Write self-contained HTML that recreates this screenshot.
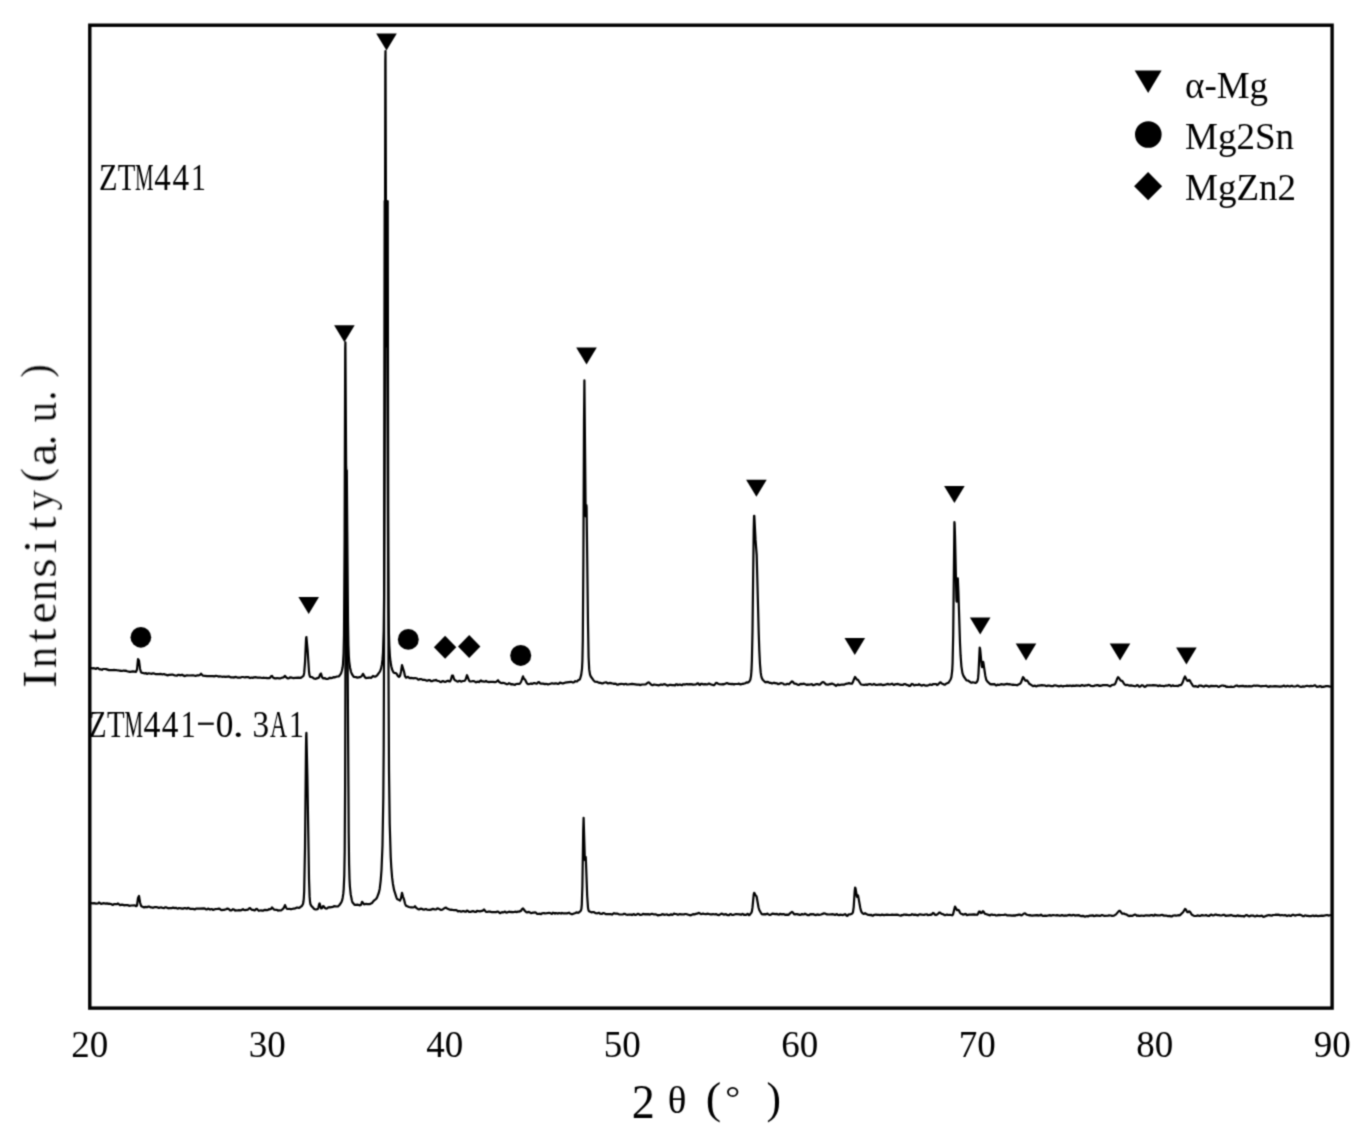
<!DOCTYPE html>
<html><head><meta charset="utf-8"><style>
html,body{margin:0;padding:0;background:#fff;}
svg{display:block;}
text{font-family:"Liberation Serif",serif;fill:#000;}
</style></head><body>
<svg width="1362" height="1131" viewBox="0 0 1362 1131">
<defs><filter id="bl" x="-1%" y="-1%" width="102%" height="102%"><feConvolveMatrix order="3" kernelMatrix="0.0361 0.1178 0.0361 0.1178 0.3846 0.1178 0.0361 0.1178 0.0361" divisor="1" edgeMode="duplicate" preserveAlpha="false"/></filter></defs>
<rect x="0" y="0" width="1362" height="1131" fill="#fff"/>
<g filter="url(#bl)">
<g><text transform="translate(98.94 189.90) scale(0.808 1)" font-size="37.5">Z</text><text transform="translate(117.68 189.90) scale(0.769 1)" font-size="37.5">T</text><text transform="translate(135.00 189.90) scale(0.555 1)" font-size="37.5">M</text><text transform="translate(154.34 189.90) scale(0.879 1)" font-size="37.5">4</text><text transform="translate(172.44 189.90) scale(0.885 1)" font-size="37.5">4</text><text transform="translate(191.07 189.90) scale(0.795 1)" font-size="37.5">1</text><text transform="translate(89.02 736.70) scale(0.766 1)" font-size="37.5">Z</text><text transform="translate(106.88 736.70) scale(0.769 1)" font-size="37.5">T</text><text transform="translate(124.60 736.70) scale(0.555 1)" font-size="37.5">M</text><text transform="translate(143.52 736.70) scale(0.902 1)" font-size="37.5">4</text><text transform="translate(161.64 736.70) scale(0.885 1)" font-size="37.5">4</text><text transform="translate(180.68 736.70) scale(0.795 1)" font-size="37.5">1</text><text transform="translate(215.66 736.70) scale(0.943 1)" font-size="37.5">0</text><text transform="translate(232.69 736.70) scale(1.175 1)" font-size="37.5">.</text><text transform="translate(252.61 736.70) scale(0.885 1)" font-size="37.5">3</text><text transform="translate(270.06 736.70) scale(0.628 1)" font-size="37.5">A</text><text transform="translate(289.07 736.70) scale(0.795 1)" font-size="37.5">1</text><rect x="198" y="722.6" width="15.8" height="2.3" fill="#111"/></g>
<g><text transform="translate(631.87 1118.20) scale(0.963 1)" font-size="47.89">2</text><text transform="translate(667.77 1112.52) scale(1.023 1)" font-size="38.08">θ</text><text transform="translate(705.86 1112.90) scale(1.061 1)" font-size="43.66">(</text><text transform="translate(725.21 1108.94) scale(1.076 1)" font-size="34.65">°</text><text transform="translate(766.61 1112.90) scale(0.998 1)" font-size="43.66">)</text></g>
<g transform="translate(55.9 687.5) rotate(-90)" stroke="#fff" stroke-width="0.2"><text transform="translate(-0.43 0.00) scale(1.100 1)" font-size="47.5">I</text><text transform="translate(19.43 0.00) scale(0.918 1)" font-size="46">n</text><text transform="translate(45.07 0.00) scale(1.100 1)" font-size="46">t</text><text transform="translate(64.03 0.00) scale(1.040 1)" font-size="46">e</text><text transform="translate(86.13 0.00) scale(0.918 1)" font-size="46">n</text><text transform="translate(109.74 0.00) scale(1.094 1)" font-size="46">s</text><text transform="translate(134.17 0.00) scale(1.100 1)" font-size="46">i</text><text transform="translate(156.92 0.00) scale(1.100 1)" font-size="46">t</text><text transform="translate(221.69 0.00) scale(1.100 1)" font-size="46">a</text><text transform="translate(242.32 0.00) scale(0.884 1)" font-size="46">.</text><text transform="translate(265.17 0.00) scale(0.883 1)" font-size="46">u</text><text transform="translate(286.82 0.00) scale(0.884 1)" font-size="46">.</text><text transform="translate(176.91 -2.84) scale(1.028 1)" font-size="40.0">y</text><text transform="translate(204.88 -5.76) scale(1.013 1)" font-size="43.0">(</text><text transform="translate(309.71 -5.76) scale(0.941 1)" font-size="43.0">)</text></g>
<g font-size="37" text-anchor="middle"><text x="89.8" y="1057">20</text><text x="267.3" y="1057">30</text><text x="444.8" y="1057">40</text><text x="622.3" y="1057">50</text><text x="799.7" y="1057">60</text><text x="977.2" y="1057">70</text><text x="1154.7" y="1057">80</text><text x="1332.2" y="1057">90</text></g>
<g fill="none" stroke="#000" stroke-width="2.2" stroke-linejoin="round" stroke-linecap="round">
<path d="M91.0 668.1 93.0 668.4 94.0 668.2 96.0 668.9 97.0 668.0 98.0 668.2 99.0 669.0 100.0 669.4 101.0 669.4 102.0 669.8 103.0 669.0 105.0 669.0 106.0 669.1 109.0 670.1 113.0 670.2 114.0 669.9 115.0 670.2 116.0 670.0 118.0 670.5 119.0 670.4 120.0 670.8 121.0 670.7 122.0 671.0 123.0 670.7 124.0 670.6 125.0 671.0 126.0 670.6 127.0 671.2 130.0 671.9 133.0 671.3 136.0 671.9 137.0 669.5 138.0 659.0 139.0 660.6 140.0 668.7 141.0 672.3 142.0 672.9 143.0 672.9 144.0 673.3 145.0 673.4 146.0 673.1 147.0 673.9 148.0 673.4 149.0 673.3 151.0 673.8 153.0 673.4 154.0 673.4 156.0 674.2 159.0 674.2 161.0 673.9 162.0 674.3 163.0 674.3 164.0 674.0 165.0 674.6 166.0 674.6 167.0 675.2 168.0 675.4 169.0 674.8 172.0 674.6 173.0 674.7 175.0 675.5 177.0 675.6 178.0 674.8 179.0 674.8 180.0 675.3 181.0 675.2 182.0 674.7 183.0 675.4 185.0 676.1 187.0 675.3 189.0 675.5 193.0 675.3 195.0 675.8 196.0 675.8 197.0 675.4 199.0 675.3 200.0 674.9 201.0 673.7 203.0 675.7 207.0 676.2 208.0 676.0 209.0 676.2 213.0 676.2 214.0 676.4 216.0 675.9 217.0 676.0 219.0 676.6 220.0 676.3 222.0 676.8 224.0 676.5 225.0 676.9 228.0 676.7 229.0 676.4 231.0 677.4 233.0 677.3 234.0 677.6 235.0 677.1 236.0 676.9 238.0 677.7 239.0 677.7 240.0 677.7 242.0 677.0 243.0 677.0 245.0 677.5 246.0 677.1 248.0 677.1 250.0 678.1 251.0 677.7 252.0 677.6 253.0 677.9 254.0 677.3 256.0 677.2 257.0 677.6 260.0 677.5 262.0 678.0 264.0 677.7 265.0 678.0 266.0 677.9 267.0 678.1 269.0 678.1 270.0 677.9 271.0 676.3 272.0 675.9 273.0 677.5 274.0 678.1 275.0 678.4 276.0 678.4 277.0 678.0 279.0 678.3 280.0 678.3 281.0 678.1 282.0 677.7 283.0 677.6 284.0 677.0 285.0 675.8 286.0 677.1 287.0 678.0 288.0 678.5 289.0 678.2 290.0 677.4 292.0 677.7 293.0 678.1 295.0 677.8 298.4 677.7 300.4 677.9 301.2 677.6 303.2 676.2 303.8 674.9 304.2 672.9 305.0 662.7 306.0 639.8 306.2 637.5 306.4 637.1 307.6 649.9 309.0 671.5 309.4 674.7 310.0 676.6 310.4 676.9 312.0 677.1 314.0 678.5 315.0 678.8 316.0 678.6 318.8 677.6 319.4 676.6 320.0 674.5 321.0 673.5 322.0 677.0 323.0 678.3 325.0 678.2 326.0 678.8 327.0 679.0 328.0 678.8 330.0 677.7 331.0 678.2 332.0 677.9 333.0 677.4 334.0 677.2 335.0 677.3 337.0 676.5 338.4 676.5 339.0 676.2 340.4 674.4 341.2 673.0 342.0 670.3 342.6 667.3 343.0 663.8 343.6 653.3 344.0 635.1 344.6 538.5 345.2 348.6 345.4 342.3 346.2 478.8 346.4 483.3 346.8 470.4 348.0 621.6 348.4 645.3 348.8 656.1 349.2 661.6 350.0 667.5 351.0 671.8 351.8 673.8 353.4 676.4 354.0 677.0 356.0 677.1 357.4 677.6 360.0 677.2 361.0 676.6 362.0 675.7 363.0 673.8 365.0 677.4 366.0 678.1 367.0 677.8 368.0 677.9 369.0 677.6 370.0 677.6 371.0 678.0 373.0 675.9 375.0 676.7 376.0 676.3 377.0 675.5 379.5 672.1 380.3 670.7 381.1 668.4 381.9 664.4 382.5 659.4 383.0 652.5 383.7 630.9 384.1 596.8 384.7 415.8 385.3 61.3 385.5 51.1 386.3 330.5 386.5 346.5 386.9 305.2 387.0 300.1 387.1 306.1 388.1 554.3 388.5 607.8 388.9 633.1 389.3 645.8 389.9 656.1 390.5 661.8 391.3 666.3 392.3 670.1 393.3 672.1 394.3 673.0 395.9 673.2 396.5 673.6 398.0 676.1 399.0 676.9 400.0 676.0 401.0 671.7 402.0 665.1 404.0 671.6 405.0 676.2 406.0 677.7 408.0 676.8 409.0 677.7 410.0 678.2 411.0 677.9 414.0 678.3 415.0 678.0 417.0 678.5 418.0 679.6 419.0 679.6 420.0 679.0 421.0 679.1 423.0 679.9 425.0 679.9 427.0 680.8 429.0 680.1 430.0 680.2 431.0 681.2 432.0 681.2 434.0 680.3 435.0 680.5 436.0 679.9 437.0 680.7 438.0 681.0 439.0 681.0 440.0 681.8 441.0 682.1 442.0 681.4 443.0 681.1 445.0 681.9 446.0 681.7 447.0 681.0 448.0 680.7 449.0 681.4 450.0 681.4 451.0 679.4 452.0 675.5 453.0 675.6 454.0 679.0 455.0 680.3 456.0 680.7 457.0 681.4 458.0 681.6 459.0 680.9 460.0 680.9 461.0 681.6 463.0 681.0 464.0 681.0 465.0 680.6 466.0 678.4 467.0 675.2 469.0 680.4 470.0 681.5 471.0 681.5 473.0 681.0 474.0 681.1 476.0 682.4 477.0 681.8 478.0 681.7 479.0 682.1 480.0 681.1 481.0 680.4 482.0 681.5 483.0 681.3 484.0 681.7 485.0 681.6 486.0 680.9 487.0 681.7 489.0 682.1 490.0 681.9 492.0 681.9 493.0 681.8 495.0 682.2 496.0 682.0 498.0 680.2 499.0 681.8 501.0 683.0 502.0 683.1 503.0 682.8 504.0 683.0 507.0 684.3 508.0 684.0 509.0 683.2 510.0 683.5 511.0 684.3 512.0 684.1 513.0 684.3 514.0 684.7 515.0 684.8 516.0 684.0 518.0 683.8 519.0 684.0 520.0 683.5 521.0 682.0 523.0 676.4 524.0 678.9 525.0 679.4 527.0 683.4 528.0 684.1 530.0 683.8 531.0 683.4 532.0 684.0 534.0 683.1 535.0 683.2 536.0 683.6 537.0 683.6 538.0 682.4 539.0 682.1 540.0 683.2 541.0 683.7 543.0 683.6 545.0 684.1 546.0 683.9 547.0 684.0 548.0 684.5 552.0 683.2 554.0 683.7 556.0 683.3 558.0 684.0 559.0 683.6 560.0 682.6 562.0 683.3 563.0 683.4 565.0 682.7 571.0 681.8 573.0 682.6 574.0 682.2 575.0 681.2 576.4 681.5 577.0 681.5 578.4 680.0 579.4 679.7 580.0 679.0 581.2 674.9 582.0 668.8 582.4 660.7 582.8 640.6 583.4 558.7 584.0 421.8 584.4 380.4 585.6 509.1 585.8 516.4 586.0 516.2 586.4 505.1 586.6 507.3 588.0 624.0 588.6 657.3 589.2 669.4 590.0 674.5 590.8 676.5 593.4 680.2 595.0 681.7 597.0 681.8 599.0 682.9 600.0 682.7 602.0 683.4 603.0 683.3 604.0 682.8 606.0 682.3 608.0 683.5 610.0 682.9 612.0 683.4 613.0 683.5 614.0 683.9 615.0 683.7 616.0 683.8 617.0 684.7 618.0 684.7 619.0 684.1 620.0 684.2 621.0 683.8 623.0 684.0 624.0 684.4 625.0 684.0 626.0 683.8 627.0 684.5 628.0 684.5 632.0 683.9 637.0 684.7 639.0 684.5 640.0 685.1 642.0 684.5 645.0 684.5 646.0 684.2 648.0 682.5 649.0 682.4 651.0 684.5 652.0 685.1 653.0 685.1 654.0 684.5 659.0 685.3 661.0 684.4 662.0 684.8 663.0 684.6 664.0 684.2 665.0 684.3 667.0 685.4 668.0 685.6 670.0 684.8 671.0 684.8 672.0 685.2 673.0 685.0 675.0 685.4 676.0 684.4 677.0 684.3 678.0 685.1 679.0 684.7 680.0 684.6 682.0 685.3 683.0 684.4 684.0 684.3 685.0 684.6 686.0 684.2 687.0 684.1 688.0 684.4 690.0 684.2 691.0 684.4 692.0 684.2 693.0 684.7 696.0 684.3 697.0 683.6 698.0 683.3 699.0 684.5 700.0 684.9 701.0 683.9 702.0 683.8 703.0 684.4 705.0 684.1 706.0 684.4 707.0 684.3 708.0 684.1 709.0 683.6 711.0 684.5 712.0 684.7 713.0 685.1 714.0 685.2 715.0 684.2 716.0 682.8 717.0 683.0 718.0 683.7 719.0 684.1 722.0 684.3 723.0 684.1 724.0 684.3 727.0 683.0 729.0 684.0 730.0 683.8 731.0 684.2 732.0 683.9 733.0 684.1 734.0 684.5 735.0 684.0 738.0 683.9 739.0 683.6 740.5 684.5 742.0 683.9 743.0 683.9 744.0 683.5 745.0 683.3 746.5 682.3 747.5 682.6 748.0 682.5 749.3 681.6 750.3 679.7 751.0 676.1 751.5 670.2 751.9 660.5 752.5 630.9 753.7 530.5 754.0 517.2 754.1 515.8 754.3 515.8 755.5 539.4 756.7 555.2 758.7 632.5 759.3 650.4 760.0 664.3 760.7 672.4 761.1 675.2 761.7 677.7 762.7 679.8 765.0 682.0 765.5 682.3 766.5 681.9 767.0 681.9 768.5 682.2 769.5 682.9 771.0 682.9 772.0 683.4 772.5 683.4 774.0 682.6 775.0 683.2 777.0 683.4 778.0 684.1 779.0 683.9 781.0 683.0 783.0 683.5 784.0 684.3 786.0 684.5 787.0 683.9 788.0 683.9 789.0 684.3 792.0 681.3 793.0 682.0 794.0 683.4 795.0 683.7 796.0 683.8 798.0 684.9 799.0 684.8 800.0 684.1 801.0 683.9 802.0 684.1 803.0 683.8 804.0 683.7 807.0 684.9 808.0 684.4 809.0 684.8 811.0 684.3 812.0 684.2 813.0 685.2 814.0 685.1 816.0 684.2 818.0 684.2 819.0 684.7 820.0 684.6 822.0 682.4 823.0 682.0 824.0 682.5 826.0 684.4 828.0 684.7 830.0 683.9 831.0 684.1 832.0 683.6 834.0 684.4 836.0 685.9 838.0 684.4 839.0 685.1 842.0 684.5 844.0 684.7 846.0 683.8 847.0 683.7 849.0 683.1 851.0 683.7 852.0 683.7 853.0 681.9 854.0 679.1 855.0 677.0 857.0 679.7 858.0 679.9 861.0 684.5 864.0 684.9 865.0 684.8 866.0 684.4 867.0 685.0 868.0 684.4 870.0 684.0 872.0 684.8 873.0 684.5 874.0 683.9 876.0 684.9 877.0 685.0 878.0 684.7 879.0 684.7 881.0 684.3 883.0 685.2 884.0 684.8 885.0 684.8 888.0 683.9 889.0 684.5 890.0 684.5 892.0 683.7 893.0 684.5 894.0 685.0 895.0 684.3 898.0 683.9 900.0 684.7 901.0 684.9 903.0 684.8 904.0 684.1 905.0 684.1 907.0 685.1 908.0 685.0 909.0 685.8 910.0 685.9 912.0 683.9 913.0 684.3 914.0 685.3 915.0 685.1 916.0 684.8 917.0 685.0 918.0 684.9 919.0 684.2 921.0 685.4 922.0 685.6 923.0 685.0 924.0 684.9 925.0 685.5 926.0 685.7 927.0 685.7 929.0 685.0 930.0 684.4 931.0 684.8 932.0 684.9 933.0 684.1 934.0 684.2 935.0 684.0 936.0 684.0 937.0 685.1 938.0 684.6 940.0 682.4 940.6 682.4 941.0 682.7 942.2 683.8 943.4 684.1 944.4 684.7 945.0 684.7 946.0 683.8 948.4 682.8 950.6 679.5 951.4 677.1 952.2 670.7 952.6 663.0 953.2 634.7 954.4 522.2 954.6 523.7 955.0 535.5 956.4 598.2 956.6 601.4 956.8 601.7 957.0 598.9 957.6 580.3 957.8 578.4 958.4 592.0 960.0 643.1 960.6 655.7 961.4 666.3 962.4 672.8 963.0 674.7 963.8 676.5 966.5 680.3 968.0 680.5 971.0 682.6 971.5 682.7 972.5 682.4 974.0 682.5 975.5 683.0 976.0 682.8 976.9 681.9 977.7 680.3 978.1 677.9 978.5 673.1 979.7 647.6 980.0 648.3 980.3 650.6 981.7 665.8 982.0 667.1 982.1 667.2 982.3 666.8 983.0 662.2 983.1 661.8 983.3 662.1 985.3 675.7 986.3 679.9 987.5 681.7 990.5 684.3 991.0 684.5 992.0 684.1 993.0 684.3 994.0 684.1 994.5 684.2 996.0 685.3 996.5 685.3 997.5 684.6 999.0 685.0 1001.0 684.2 1004.0 684.6 1007.0 683.9 1009.0 684.4 1010.0 684.2 1012.0 684.8 1013.0 684.6 1014.0 685.0 1015.0 684.8 1017.0 685.3 1018.0 684.7 1020.0 683.8 1021.0 682.5 1023.0 677.1 1024.0 678.3 1025.0 680.4 1026.0 680.8 1027.0 680.3 1028.0 681.6 1029.0 683.5 1033.0 686.1 1035.0 685.7 1036.0 686.3 1037.0 686.1 1038.0 685.5 1039.0 685.7 1042.0 685.2 1043.0 685.3 1044.0 685.3 1045.0 685.5 1046.0 686.0 1047.0 686.1 1048.0 685.6 1049.0 685.5 1051.0 686.1 1053.0 686.2 1054.0 685.5 1055.0 685.3 1059.0 686.4 1061.0 685.7 1063.0 686.5 1064.0 686.0 1066.0 685.9 1067.0 685.6 1069.0 685.9 1070.0 685.5 1072.0 686.1 1073.0 685.6 1075.0 685.9 1076.0 685.4 1077.0 685.6 1079.0 685.7 1080.0 686.1 1081.0 685.5 1082.0 685.1 1084.0 685.8 1086.0 685.4 1087.0 685.5 1088.0 684.9 1089.0 684.9 1090.0 685.3 1091.0 686.0 1093.0 686.1 1094.0 686.0 1095.0 685.4 1096.0 685.5 1097.0 685.1 1098.0 685.2 1099.0 685.8 1100.0 685.6 1101.0 685.8 1103.0 685.1 1107.0 685.0 1110.0 686.3 1112.0 685.0 1114.0 684.7 1115.0 684.1 1116.0 682.0 1117.0 679.1 1118.0 677.2 1119.0 678.0 1120.0 679.8 1121.0 680.6 1122.0 680.8 1123.0 682.0 1124.0 683.8 1125.0 684.8 1126.0 685.1 1127.0 684.8 1129.0 685.6 1131.0 685.4 1135.0 686.3 1136.0 685.9 1137.0 685.2 1138.0 685.3 1139.0 686.6 1140.0 686.7 1142.0 685.2 1143.0 685.5 1144.0 686.4 1145.0 686.9 1146.0 686.3 1147.0 685.4 1148.0 685.3 1149.0 685.5 1150.0 685.2 1151.0 685.5 1153.0 685.1 1156.0 685.3 1157.0 685.5 1158.0 686.1 1160.0 685.4 1161.0 685.9 1162.0 686.0 1163.0 685.9 1164.0 686.3 1166.0 685.5 1167.0 685.7 1168.0 685.5 1169.0 684.9 1170.0 685.3 1171.0 686.2 1173.0 685.3 1174.0 686.0 1177.0 685.8 1178.0 686.1 1179.0 685.4 1180.0 685.1 1181.0 685.1 1182.0 683.7 1183.0 681.5 1184.0 678.4 1185.0 676.5 1187.0 680.4 1188.0 680.9 1189.0 680.0 1190.0 680.7 1191.0 682.9 1192.0 684.2 1193.0 686.0 1194.0 686.4 1196.0 686.2 1198.0 687.0 1199.0 685.7 1201.0 685.6 1204.0 686.7 1205.0 685.9 1206.0 685.7 1208.0 686.1 1209.0 686.7 1210.0 686.4 1211.0 685.8 1215.0 686.1 1216.0 685.9 1217.0 686.0 1218.0 686.7 1219.0 687.0 1220.0 686.2 1222.0 685.5 1223.0 685.5 1224.0 686.0 1225.0 685.8 1226.0 686.8 1227.0 686.7 1229.0 687.0 1231.0 686.7 1233.0 687.0 1234.0 686.7 1236.0 685.6 1237.0 685.5 1238.0 686.2 1239.0 686.4 1240.0 686.1 1243.0 685.8 1244.0 686.4 1246.0 686.1 1248.0 686.5 1249.0 686.1 1251.0 686.4 1252.0 686.3 1254.0 685.5 1256.0 685.8 1257.0 685.5 1259.0 685.8 1261.0 686.5 1262.0 686.1 1265.0 686.0 1266.0 685.7 1268.0 686.7 1269.0 686.8 1270.0 686.2 1272.0 686.5 1273.0 686.3 1275.0 686.1 1280.0 686.7 1282.0 686.4 1284.0 685.5 1285.0 686.3 1286.0 686.4 1287.0 685.9 1288.0 685.9 1289.0 686.3 1290.0 686.4 1291.0 685.9 1292.0 685.8 1293.0 686.4 1295.0 686.5 1296.0 686.2 1297.0 685.7 1298.0 685.6 1299.0 686.3 1301.0 687.0 1303.0 686.4 1304.0 686.7 1306.0 686.0 1307.0 685.8 1309.0 686.3 1311.0 685.9 1312.0 686.2 1313.0 686.0 1315.0 685.2 1317.0 687.0 1318.0 686.6 1319.0 686.6 1320.0 686.1 1321.0 686.3 1322.0 687.1 1323.0 686.7 1324.0 686.8 1326.0 686.1 1328.0 686.2 1330.0 686.6"/>
<path d="M91.0 903.1 93.0 903.4 94.0 903.2 96.0 903.6 98.0 903.5 99.0 902.5 101.0 903.8 104.0 903.2 105.0 903.6 107.0 903.3 108.0 903.8 109.0 903.7 111.0 904.0 112.0 904.6 113.0 904.9 114.0 904.2 117.0 904.2 118.0 903.5 120.0 905.1 122.0 904.6 123.0 904.8 124.0 905.4 125.0 905.1 126.0 905.2 127.0 905.0 128.0 905.2 129.0 905.7 130.0 905.8 131.0 905.5 135.0 905.4 136.0 906.2 137.0 905.6 138.0 898.0 139.0 896.0 140.0 902.2 141.0 905.8 142.0 906.6 144.0 907.4 145.0 906.9 147.0 907.2 148.0 906.7 149.0 906.5 151.0 907.5 152.0 907.4 153.0 907.8 155.0 907.0 156.0 907.2 157.0 907.2 159.0 907.9 160.0 907.5 161.0 907.4 163.0 908.0 164.0 908.1 165.0 907.4 166.0 907.3 168.0 908.2 169.0 908.3 170.0 908.0 172.0 908.1 173.0 907.6 175.0 908.1 176.0 907.8 177.0 908.4 178.0 908.6 179.0 908.0 181.0 908.3 182.0 908.7 183.0 908.7 184.0 908.2 185.0 908.2 187.0 908.6 188.0 907.8 190.0 908.8 193.0 908.9 195.0 909.4 196.0 908.7 198.0 908.6 200.0 908.7 204.0 908.4 205.0 908.6 206.0 909.3 207.0 909.3 208.0 908.6 210.0 909.6 211.0 909.2 212.0 909.2 213.0 909.9 215.0 909.2 217.0 909.0 219.0 908.6 220.0 909.1 221.0 909.9 222.0 910.1 223.0 909.8 224.0 909.9 226.0 909.3 227.0 908.7 228.0 908.7 229.0 909.2 230.0 910.3 231.0 910.5 232.0 910.0 233.0 909.2 234.0 909.5 235.0 910.6 236.0 910.3 237.0 910.5 239.0 910.1 240.0 910.4 241.0 910.3 243.0 909.2 244.0 910.0 245.0 910.1 248.0 909.6 249.0 908.4 250.0 908.0 251.0 909.2 252.0 909.9 253.0 909.8 254.0 910.3 255.0 910.3 256.0 909.0 257.0 908.9 258.0 910.1 259.0 910.8 261.0 910.3 262.0 910.7 263.0 910.7 264.0 910.1 265.0 909.8 267.0 910.2 268.0 909.9 269.0 909.1 270.0 909.3 271.0 908.9 272.0 907.5 274.0 909.6 277.0 909.9 278.0 910.6 279.0 910.3 281.0 910.5 283.0 908.8 284.0 907.5 285.0 905.1 286.0 907.5 287.0 909.0 290.0 908.9 291.0 909.3 293.0 908.7 294.0 908.7 295.0 908.5 297.0 907.5 299.0 907.9 299.6 907.7 302.0 905.8 303.0 903.9 303.4 902.1 303.8 898.5 304.2 891.0 305.0 847.5 306.0 746.0 306.2 735.5 306.4 732.9 307.4 776.9 309.0 879.1 309.6 896.4 310.0 901.5 310.4 904.0 311.2 905.8 313.0 907.6 314.0 908.8 315.0 909.4 316.0 909.5 317.4 909.2 318.0 908.6 318.4 907.6 319.2 904.1 319.6 903.4 321.0 908.5 322.0 908.2 323.0 906.1 324.0 906.6 325.0 908.1 326.0 908.6 327.0 908.5 328.0 907.6 329.0 907.2 330.0 907.3 333.0 906.8 334.0 906.2 337.0 906.5 338.0 906.3 339.5 905.0 341.3 902.4 342.0 900.7 342.7 897.7 343.3 893.7 343.7 889.1 344.3 875.1 344.7 851.2 345.1 786.5 346.0 466.4 346.9 648.0 347.1 653.9 347.5 636.7 348.7 833.2 349.1 864.2 349.5 878.9 349.9 886.5 350.7 894.4 351.9 900.5 352.5 902.3 353.0 903.1 354.5 904.7 355.0 904.9 358.0 904.7 360.0 905.4 361.0 904.8 362.0 901.9 363.0 902.9 364.0 904.3 365.0 904.2 366.0 903.8 367.0 904.2 370.0 904.1 372.0 903.1 373.0 901.7 374.0 900.6 376.0 899.0 377.0 897.6 378.9 892.5 379.7 888.9 380.7 880.6 381.5 870.0 382.5 845.3 383.3 798.1 383.7 748.2 384.1 635.2 384.7 201.0 386.5 201.6 387.0 201.6 387.7 201.1 388.5 671.6 389.0 769.7 389.7 823.5 390.7 856.7 391.3 867.5 392.1 877.4 392.9 883.7 394.1 890.2 396.5 897.6 397.0 898.8 397.5 899.4 398.0 899.4 400.0 900.6 401.0 898.3 402.0 892.8 403.0 896.5 404.0 899.3 405.0 903.6 406.0 905.7 409.0 907.0 411.0 907.4 412.0 907.3 413.0 907.5 414.0 907.2 415.0 906.2 416.0 907.7 418.0 909.2 419.0 909.4 420.0 908.9 421.0 908.7 422.0 908.8 423.0 909.5 424.0 909.6 426.0 909.0 427.0 909.6 430.0 909.8 431.0 909.7 432.0 909.1 433.0 908.9 435.0 909.5 436.0 909.5 437.0 908.6 438.0 908.4 441.0 910.0 442.0 909.7 443.0 909.2 445.0 907.8 446.0 907.6 447.0 908.4 450.0 909.7 451.0 909.9 452.0 909.7 454.0 910.2 455.0 910.0 456.0 910.1 457.0 910.6 458.0 911.4 459.0 911.1 460.0 911.1 461.0 911.7 463.0 911.1 464.0 911.2 465.0 911.7 466.0 911.7 467.0 910.6 468.0 911.0 469.0 911.9 471.0 911.8 472.0 911.3 473.0 911.1 475.0 912.0 476.0 911.9 477.0 910.9 480.0 911.3 482.0 910.9 483.0 910.4 484.0 909.5 486.0 911.9 487.0 912.0 488.0 911.7 490.0 911.6 492.0 912.2 494.0 912.0 495.0 912.2 496.0 912.2 497.0 911.6 498.0 911.6 500.0 913.2 502.0 912.1 503.0 912.3 504.0 912.1 505.0 911.6 506.0 912.4 507.0 912.6 509.0 911.7 511.0 912.1 512.0 911.9 513.0 912.3 515.0 911.7 517.0 912.1 518.0 911.6 519.0 911.6 521.0 910.9 522.0 909.1 523.0 908.4 525.0 911.0 526.0 911.9 527.0 912.4 529.0 911.9 531.0 913.2 533.0 912.6 534.0 912.7 535.0 912.3 536.0 912.7 537.0 913.8 538.0 914.0 539.0 913.7 541.0 914.1 542.0 913.3 544.0 913.0 545.0 913.5 549.0 912.8 550.0 913.0 552.0 913.9 553.0 912.7 554.0 913.0 555.0 913.7 556.0 913.0 558.0 913.6 559.0 913.1 560.0 913.2 561.0 913.6 562.0 912.9 563.0 913.3 567.0 913.4 569.0 912.7 570.0 913.5 572.0 914.3 575.4 913.0 576.4 912.4 577.0 912.4 578.0 912.8 578.6 912.7 580.2 911.4 581.0 910.3 581.4 908.8 581.8 904.7 582.4 885.9 583.2 831.0 583.6 817.8 584.8 857.9 585.0 860.1 585.2 859.9 585.6 856.8 585.8 857.7 587.2 896.1 588.0 907.6 588.4 909.9 589.0 911.3 591.4 912.3 593.0 912.0 594.0 912.1 595.4 913.1 596.0 913.2 597.4 913.3 599.0 912.7 600.0 913.6 602.0 913.9 603.0 913.2 604.0 913.1 606.0 914.2 611.0 914.2 612.0 914.6 614.0 913.2 615.0 913.6 617.0 913.5 619.0 914.3 620.0 914.5 623.0 914.4 624.0 913.8 625.0 913.9 626.0 914.5 627.0 914.8 629.0 914.5 631.0 914.6 632.0 915.1 634.0 914.1 635.0 914.8 636.0 914.9 638.0 913.8 639.0 914.2 640.0 915.0 642.0 914.6 643.0 913.9 645.0 914.4 646.0 914.2 647.0 914.3 648.0 914.1 650.0 914.6 652.0 913.8 654.0 914.5 655.0 914.3 656.0 914.4 658.0 915.5 659.0 915.1 661.0 914.9 662.0 914.3 663.0 914.2 664.0 914.7 665.0 914.8 667.0 914.3 668.0 915.0 669.0 915.2 671.0 914.3 672.0 914.9 673.0 914.5 674.0 913.6 675.0 914.0 676.0 914.0 678.0 914.8 680.0 914.0 681.0 914.4 682.0 914.3 683.0 914.5 684.0 914.4 685.0 914.0 686.0 914.0 690.0 915.3 691.0 915.2 693.0 914.1 695.0 914.3 696.0 913.8 697.0 913.7 699.0 912.8 701.0 914.1 702.0 914.0 703.0 913.6 704.0 914.0 706.0 914.2 707.0 913.8 708.0 913.7 710.0 914.3 712.0 914.4 713.0 914.0 715.0 914.5 716.0 914.1 717.0 914.6 719.0 915.1 721.0 913.9 722.0 913.7 724.0 914.7 725.0 914.3 726.0 914.1 727.0 914.9 728.0 915.2 729.0 915.2 730.0 914.2 731.0 914.2 732.0 914.9 733.0 915.0 736.0 914.0 739.7 914.4 741.0 914.8 742.5 913.9 743.0 914.0 744.0 914.8 745.0 914.7 746.0 915.0 747.5 913.8 748.0 914.1 749.0 915.2 749.5 915.0 751.3 912.9 751.9 911.3 752.5 907.4 753.7 894.6 754.1 892.9 754.5 893.2 755.5 895.3 756.5 896.3 756.7 897.0 758.5 907.2 759.3 910.0 761.3 913.5 761.9 914.1 762.5 914.3 765.0 914.2 766.0 914.3 767.0 913.8 767.5 913.7 768.5 914.5 770.0 915.0 770.5 914.8 772.0 913.8 772.5 913.7 774.0 913.8 775.0 914.2 777.0 913.9 778.0 914.5 779.0 914.7 780.0 913.9 782.0 914.4 783.0 914.2 784.0 914.2 785.0 914.8 787.0 914.6 788.0 914.9 789.0 914.4 790.0 913.4 792.0 911.9 793.0 912.6 794.0 914.2 795.0 914.5 796.0 914.0 797.0 914.1 800.0 914.9 801.0 914.7 802.0 914.0 803.0 914.5 804.0 914.4 805.0 913.7 808.0 915.2 809.0 915.1 810.0 914.3 811.0 914.2 812.0 914.4 813.0 914.0 814.0 914.6 816.0 915.1 817.0 914.5 818.0 914.4 819.0 914.9 821.0 914.5 824.0 913.4 825.0 913.5 827.0 914.4 829.0 914.5 833.0 914.2 835.0 914.9 836.0 914.4 837.0 914.2 838.0 915.0 839.0 915.2 840.0 914.7 843.0 915.1 845.0 914.2 845.5 914.3 846.5 915.6 847.0 915.9 847.5 915.7 848.5 914.5 849.0 914.4 850.1 914.5 851.7 913.8 852.5 913.1 853.0 912.0 853.7 907.1 854.7 891.0 855.1 887.5 855.5 888.3 856.9 896.5 857.1 896.8 857.3 896.7 857.9 895.5 858.1 895.6 860.3 908.0 861.0 910.7 861.7 912.3 862.7 913.4 863.5 913.9 865.0 913.2 868.0 914.9 869.0 914.8 870.0 915.1 871.0 914.8 872.5 915.7 873.0 915.6 874.0 914.8 875.0 914.8 876.0 914.5 877.0 914.9 879.0 914.8 880.0 915.2 881.0 915.1 882.0 914.6 884.0 915.1 887.0 914.7 890.0 915.0 892.0 914.7 894.0 914.9 897.0 914.7 898.0 914.8 899.0 915.2 901.0 915.7 902.0 915.0 903.0 915.1 904.0 914.6 905.0 914.6 906.0 914.9 907.0 914.7 909.0 915.2 911.0 915.0 912.0 914.2 914.0 914.9 915.0 914.7 918.0 915.3 919.0 914.5 920.0 914.3 924.0 915.0 925.0 914.5 927.0 914.3 928.0 915.1 929.0 915.0 930.0 914.7 931.0 914.8 932.0 914.2 933.0 912.9 934.0 913.5 935.0 914.7 936.0 915.1 937.0 914.6 938.0 913.9 939.0 912.7 940.0 912.5 941.0 913.5 942.0 914.0 943.0 914.2 945.0 915.2 947.0 914.5 948.0 915.0 950.0 914.8 952.0 915.3 953.0 914.6 955.0 906.5 957.0 910.2 958.0 909.8 959.0 910.5 960.0 912.8 961.0 913.7 962.0 914.0 963.0 914.7 964.0 914.4 965.0 913.9 966.0 914.1 967.0 915.1 968.0 915.0 969.0 914.6 971.0 914.7 974.0 914.3 975.0 914.8 976.0 914.5 977.0 914.8 978.0 914.0 979.0 911.5 980.0 911.6 981.0 913.1 982.0 912.7 983.0 911.1 984.0 912.3 985.0 913.8 990.0 915.4 991.0 914.7 992.0 914.5 993.0 915.0 995.0 914.9 996.0 915.5 997.0 915.5 998.0 915.1 999.0 914.9 1000.0 915.2 1001.0 915.0 1004.0 915.0 1005.0 914.5 1006.0 914.8 1007.0 915.4 1010.0 915.3 1012.0 915.7 1014.0 915.4 1015.0 915.7 1016.0 915.1 1017.0 915.1 1019.0 914.6 1020.0 914.7 1021.0 915.3 1022.0 915.1 1024.0 913.5 1025.0 913.4 1026.0 914.2 1027.0 914.7 1029.0 915.3 1030.0 915.1 1032.0 915.7 1037.0 915.1 1038.0 915.6 1039.0 915.4 1040.0 915.5 1041.0 914.6 1042.0 915.5 1043.0 916.0 1045.0 915.7 1047.0 915.8 1050.0 915.1 1051.0 915.7 1053.0 915.0 1056.0 915.5 1057.0 915.1 1060.0 915.8 1062.0 915.1 1064.0 915.8 1065.0 915.4 1066.0 915.7 1067.0 915.6 1068.0 915.2 1070.0 914.9 1071.0 915.4 1072.0 915.5 1073.0 914.9 1074.0 915.0 1075.0 915.6 1076.0 915.3 1079.0 915.2 1080.0 915.8 1081.0 916.1 1083.0 915.8 1085.0 916.7 1087.0 916.0 1088.0 916.5 1089.0 915.9 1090.0 915.6 1091.0 915.6 1093.0 915.3 1094.0 916.1 1095.0 916.0 1096.0 915.3 1100.0 915.9 1102.0 915.0 1104.0 915.8 1108.0 915.6 1109.0 915.4 1111.0 915.5 1112.0 915.9 1114.0 915.6 1116.0 914.4 1119.0 910.9 1120.0 910.9 1122.0 913.7 1124.0 913.5 1125.0 914.2 1126.0 914.3 1127.0 914.8 1128.0 915.6 1129.0 916.1 1130.0 915.8 1131.0 915.7 1132.0 916.0 1135.0 914.6 1136.0 915.0 1137.0 915.8 1138.0 915.4 1139.0 916.0 1140.0 915.9 1141.0 915.5 1144.0 915.9 1146.0 915.3 1150.0 915.6 1151.0 915.1 1152.0 915.0 1153.0 915.7 1154.0 915.6 1155.0 914.6 1156.0 915.2 1157.0 915.4 1158.0 915.3 1160.0 915.5 1161.0 915.0 1162.0 914.9 1164.0 915.6 1166.0 915.5 1168.0 916.1 1170.0 915.9 1171.0 916.4 1172.0 916.4 1173.0 915.7 1174.0 915.5 1175.0 915.4 1176.0 915.7 1178.0 915.2 1179.0 915.4 1180.0 915.1 1183.0 912.3 1185.0 909.0 1186.0 909.7 1187.0 911.9 1188.0 912.3 1189.0 911.4 1190.0 911.7 1191.0 913.5 1192.0 914.8 1194.0 915.9 1195.0 916.0 1196.0 916.0 1198.0 915.4 1199.0 915.8 1200.0 915.9 1202.0 915.1 1204.0 915.5 1205.0 915.5 1206.0 915.1 1207.0 915.6 1209.0 916.0 1211.0 914.6 1213.0 915.5 1214.0 915.2 1215.0 914.6 1216.0 914.6 1218.0 915.2 1219.0 915.0 1220.0 915.5 1222.0 915.3 1223.0 914.9 1224.0 914.8 1226.0 916.0 1227.0 915.6 1228.0 915.7 1230.0 915.4 1231.0 914.9 1233.0 915.8 1234.0 915.8 1236.0 916.2 1237.0 915.6 1238.0 915.4 1239.0 916.1 1240.0 915.7 1241.0 916.2 1243.0 916.1 1244.0 916.6 1246.0 915.2 1247.0 915.2 1249.0 916.4 1250.0 916.1 1251.0 915.5 1252.0 915.7 1253.0 915.6 1254.0 916.1 1255.0 916.3 1256.0 916.1 1257.0 915.6 1258.0 915.9 1260.0 916.1 1261.0 915.8 1262.0 915.7 1263.0 916.6 1264.0 916.8 1266.0 915.9 1269.0 915.0 1270.0 915.4 1272.0 915.6 1273.0 915.0 1275.0 915.0 1276.0 914.6 1277.0 914.8 1278.0 914.6 1279.0 914.8 1280.0 915.4 1282.0 915.0 1284.0 915.5 1285.0 915.1 1287.0 916.1 1289.0 915.3 1290.0 915.9 1291.0 915.9 1292.0 915.1 1293.0 914.7 1295.0 915.6 1297.0 915.0 1300.0 914.7 1302.0 915.6 1303.0 916.2 1304.0 916.1 1305.0 915.4 1306.0 915.5 1307.0 915.9 1308.0 915.9 1309.0 916.1 1311.0 916.1 1313.0 915.5 1314.0 916.1 1316.0 915.7 1318.0 916.1 1322.0 915.7 1323.0 915.9 1327.0 915.0 1329.0 915.6 1330.0 915.2"/>
</g>
<rect x="89.8" y="25.2" width="1242.3" height="982.9" fill="none" stroke="#000" stroke-width="3.4"/>
<g fill="#000"><path d="M298.40 597.10L319.00 597.10L308.70 614.10Z"/><path d="M334.10 325.30L354.70 325.30L344.40 342.30Z"/><path d="M376.20 33.45L396.80 33.45L386.50 50.45Z"/><path d="M576.20 347.50L596.80 347.50L586.50 364.50Z"/><path d="M746.10 479.80L766.70 479.80L756.40 496.80Z"/><path d="M844.50 637.90L865.10 637.90L854.80 654.90Z"/><path d="M944.10 485.90L964.70 485.90L954.40 502.90Z"/><path d="M969.90 617.50L990.50 617.50L980.20 634.50Z"/><path d="M1015.70 643.50L1036.30 643.50L1026.00 660.50Z"/><path d="M1109.70 643.50L1130.30 643.50L1120.00 660.50Z"/><path d="M1176.10 647.50L1196.70 647.50L1186.40 664.50Z"/><circle cx="140.85" cy="637.3" r="10.35"/><circle cx="408.3" cy="639.4" r="10.45"/><circle cx="520.7" cy="655.4" r="10.5"/><path d="M433.90 647.30L445.10 635.80L456.30 647.30L445.10 658.80Z"/><path d="M458.00 646.50L469.20 635.00L480.40 646.50L469.20 658.00Z"/></g>
<g fill="#000">
<path d="M1134.7 70.5L1161.6 70.5L1148.15 93.1Z"/>
<circle cx="1148.3" cy="134.5" r="13.3"/>
<path d="M1134.1 186.15L1148.1 172.1L1162.1 186.15L1148.1 200.2Z"/>
</g>
<g font-size="37">
<text x="1185" y="97.7">α-Mg</text>
<text x="1185" y="148.6">Mg2Sn</text>
<text x="1185" y="199.5">MgZn2</text>
</g>
</g>
</svg>
</body></html>
